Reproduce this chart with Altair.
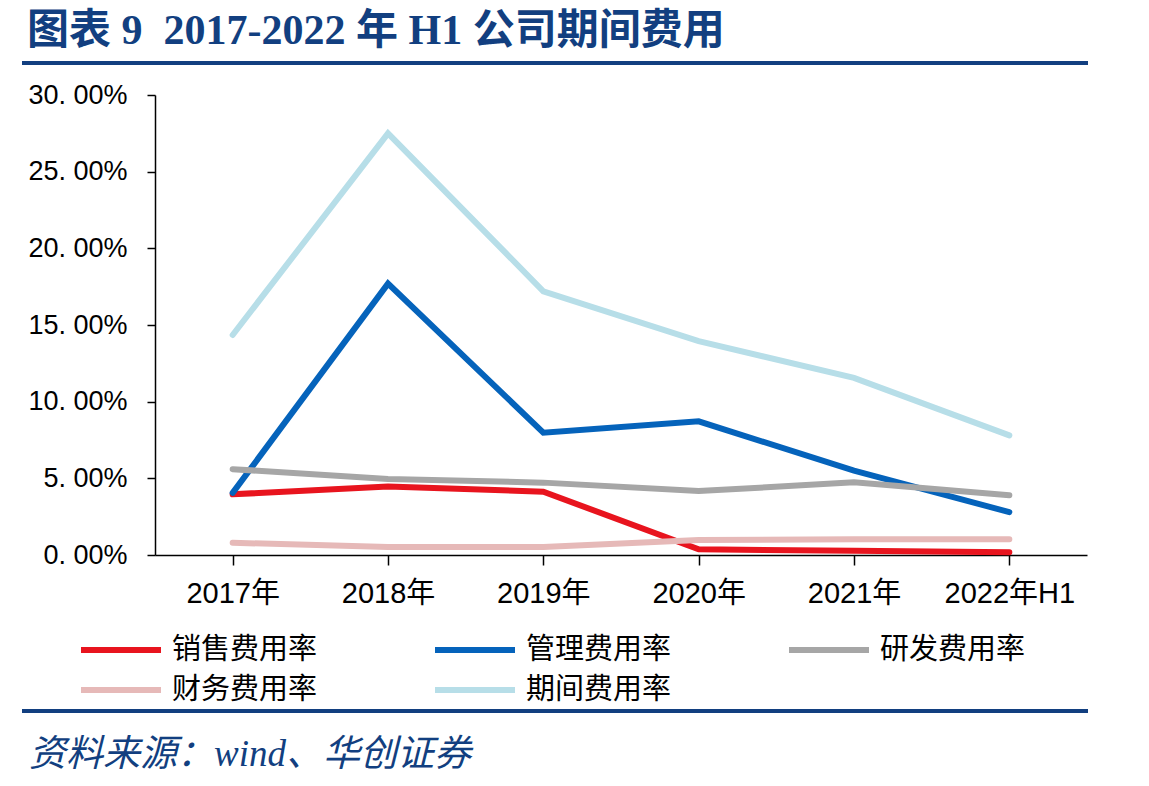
import altair as alt
import pandas as pd

# Period categories
years = ["2017年", "2018年", "2019年", "2020年", "2021年", "2022年H1"]

# Expense ratios (%) by type
sales_rate = [3.96, 4.46, 4.13, 0.37, 0.27, 0.18]        # 销售费用率
admin_rate = [4.05, 17.7, 7.98, 8.72, 5.5, 2.8]          # 管理费用率
rnd_rate = [5.6, 4.95, 4.72, 4.17, 4.74, 3.9]            # 研发费用率
finance_rate = [0.8, 0.52, 0.52, 0.98, 1.02, 1.02]       # 财务费用率
period_rate = [14.35, 27.5, 17.2, 13.95, 11.55, 7.8]     # 期间费用率

series_names = ["销售费用率", "管理费用率", "研发费用率", "财务费用率", "期间费用率"]
series_values = [sales_rate, admin_rate, rnd_rate, finance_rate, period_rate]
series_colors = ["#E8141E", "#0563BB", "#A6A6A6", "#E6B9B8", "#B7DEE8"]

rows = []
for order, (name, vals) in enumerate(zip(series_names, series_values)):
    for yr, v in zip(years, vals):
        rows.append({"year": yr, "series": name, "value": v / 100.0, "ord": order})
df = pd.DataFrame(rows)

NAVY = "#123F80"
W, H = 932, 460
LEFT, TOP = 155, 95
NBSP = "\u00a0"

x_enc = alt.X("year:N", sort=years, title=None,
              scale=alt.Scale(paddingInner=0, paddingOuter=0),
              axis=alt.Axis(labelAngle=0, labelFont="Liberation Sans, Noto Sans CJK SC",
                            labelFontSize=29, labelColor="#000000", labelPadding=14,
                            tickSize=10, tickColor="#000000", tickWidth=1.5,
                            domainColor="#000000", domainWidth=1.5,
                            bandPosition=0, ticks=True, grid=False))
y_enc = alt.Y("value:Q", title=None,
              scale=alt.Scale(domain=[0, 0.30], nice=False),
              axis=alt.Axis(values=[0, 0.05, 0.10, 0.15, 0.20, 0.25, 0.30],
                            labelExpr="replace(format(datum.value, '.2%'), '.', '. ')",
                            labelFont="Liberation Sans", labelFontSize=27,
                            labelColor="#000000", labelPadding=20,
                            tickSize=8, tickColor="#000000", tickWidth=1.5,
                            domainColor="#000000", domainWidth=1.5, grid=False))


def series_lines(names, colors, legend_y):
    """Lines for a group of series, with a one-row legend of their own."""
    return alt.Chart(df).transform_filter(
        alt.FieldOneOfPredicate(field="series", oneOf=names)
    ).mark_line(strokeWidth=6, strokeCap="round").encode(
        x=x_enc,
        y=y_enc,
        color=alt.Color("series:N",
                        scale=alt.Scale(domain=names, range=colors),
                        legend=alt.Legend(title=None, orient="none", legendX=-77,
                                          legendY=legend_y, direction="horizontal",
                                          columns=3, symbolType="stroke", symbolSize=6400,
                                          symbolStrokeWidth=6, labelFont="Noto Sans CJK SC",
                                          labelFontSize=29, labelColor="#000000",
                                          labelOffset=8, columnPadding=105,
                                          labelLimit=400)),
        order=alt.Order("ord:Q"),
        detail="series:N",
    )


# Legend row 1: first three series; row 2: the remaining two
row1 = series_lines(series_names[:3], series_colors[:3], 512)
row2 = series_lines(series_names[3:], series_colors[3:], 552)

# Header and footer decorations
title_text = f"图表 9{NBSP}{NBSP}2017-2022 年 H1 公司期间费用"
title = alt.Chart(pd.DataFrame({"t": [title_text]})).mark_text(
    align="left", baseline="alphabetic", font="Liberation Serif, Noto Sans CJK SC",
    fontSize=42, fontWeight="bold", color=NAVY
).encode(text="t:N", x=alt.value(-128), y=alt.value(-51))

top_rule = alt.Chart(pd.DataFrame({"a": [0]})).mark_rule(color=NAVY, strokeWidth=4).encode(
    x=alt.value(-133), x2=alt.value(933), y=alt.value(-32))
bottom_rule = alt.Chart(pd.DataFrame({"a": [0]})).mark_rule(color=NAVY, strokeWidth=4).encode(
    x=alt.value(-133), x2=alt.value(933), y=alt.value(616))

source = alt.Chart(pd.DataFrame({"t": ["资料来源：wind、华创证券"]})).mark_text(
    align="left", baseline="alphabetic", font="Liberation Serif, Noto Sans CJK SC",
    fontSize=37, fontStyle="italic", color=NAVY
).encode(text="t:N", x=alt.value(-126), y=alt.value(671))

chart = alt.layer(row1, row2, title, top_rule, bottom_rule, source).resolve_scale(
    color="independent"
).properties(
    width=W, height=H,
    background="#FFFFFF",
    autosize=alt.AutoSizeParams(type="none"),
    padding={"left": LEFT, "top": TOP, "right": 1149 - LEFT - W, "bottom": 786 - TOP - H},
).configure_view(stroke=None)

chart.save("out.html", embed_options={"renderer": "svg", "actions": False})
